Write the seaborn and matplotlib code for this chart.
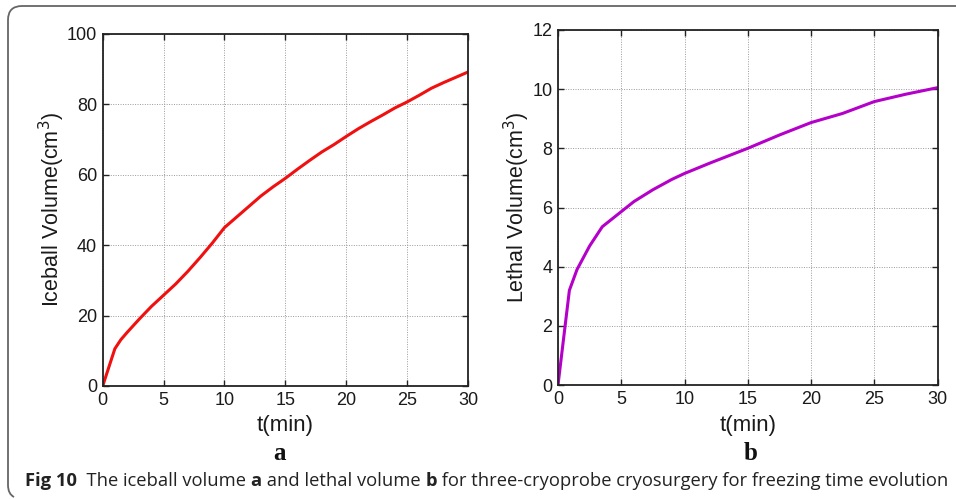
import numpy as np
import pandas as pd
import matplotlib
matplotlib.use("Agg")
import matplotlib.pyplot as plt
import seaborn as sns

# ---- data ----
t_ice = [0, 1, 1.5, 2, 3, 4, 5, 6, 7, 8, 9, 10, 11, 12, 13, 14, 15, 16, 17, 18,
         19, 20, 21, 22, 23, 24, 25, 26, 27, 28, 29, 30]
v_ice = [0, 10.6, 13.2, 15.2, 19.0, 22.6, 25.8, 29.0, 32.6, 36.5, 40.6, 45.0, 48.0,
         51.0, 54.0, 56.6, 59.0, 61.6, 64.1, 66.5, 68.6, 70.9, 73.1, 75.1, 77.0,
         79.0, 80.7, 82.6, 84.6, 86.2, 87.7, 89.2]
t_leth = [0, 0.9, 1.5, 2.5, 3.5, 5, 6, 7.5, 9, 10, 12, 13.5, 15, 17.5, 20, 22.5,
          25, 27.5, 30]
v_leth = [0, 3.2, 3.9, 4.7, 5.35, 5.86, 6.2, 6.6, 6.95, 7.15, 7.5, 7.75, 8.0,
          8.45, 8.87, 9.18, 9.58, 9.83, 10.05]
x_ticks = [0, 5, 10, 15, 20, 25, 30]
y_ticks_a = [0, 20, 40, 60, 80, 100]
y_ticks_b = [0, 2, 4, 6, 8, 10, 12]

df_a = pd.DataFrame({"t": t_ice, "v": v_ice})
df_b = pd.DataFrame({"t": t_leth, "v": v_leth})

sns.set_theme(style="white")
plt.rcParams["font.family"] = ["Liberation Sans", "DejaVu Sans"]

W, H = 956, 499
fig = plt.figure(figsize=(W / 100, H / 100), dpi=100)

def ax_rect(x0, x1, y0, y1):
    return [x0 / W, 1 - y1 / H, (x1 - x0) / W, (y1 - y0) / H]

ax1 = fig.add_axes(ax_rect(102.7, 468, 34, 386))
ax2 = fig.add_axes(ax_rect(558, 937.5, 30, 385))

def style(ax, yt, ylim, ylabel, lpad):
    ax.set_xlim(0, 30)
    ax.set_ylim(*ylim)
    ax.set_xticks(x_ticks)
    ax.set_yticks(yt)
    ax.grid(True, linestyle=(0, (1, 1.5)), color="#9a9a9a", linewidth=0.7)
    for s in ax.spines.values():
        s.set_color("#222222")
        s.set_linewidth(1.3)
        s.set_visible(True)
    ax.tick_params(direction="in", length=4, width=1, colors="#222222",
                   labelsize=13, top=True, right=True, bottom=True, left=True,
                   labelcolor="#1a1a1a", pad=4)
    ax.set_xlabel("t(min)", fontsize=16, color="#1a1a1a", labelpad=5)
    ax.set_ylabel(ylabel, fontsize=15.5, color="#1a1a1a", labelpad=lpad)

sns.lineplot(data=df_a, x="t", y="v", ax=ax1, color="#f01010", linewidth=2.2)
style(ax1, y_ticks_a, (0, 100), "Iceball Volume(cm$^3$)", 0)

sns.lineplot(data=df_b, x="t", y="v", ax=ax2, color="#b400c8", linewidth=2.2)
style(ax2, y_ticks_b, (0, 12), "Lethal Volume(cm$^3$)", 0)

# panel letters
fig.text(280 / W, 1 - 453 / H, "a", ha="center", va="center", fontsize=18,
         fontweight="bold", family=["Liberation Serif", "DejaVu Serif"], color="#111111")
fig.text(751 / W, 1 - 453 / H, "b", ha="center", va="center", fontsize=18,
         fontweight="bold", family=["Liberation Serif", "DejaVu Serif"], color="#111111")

# caption
cap_y = 1 - 481 / H
x = 25 / W
parts = [("Fig 10", "bold"), ("  The iceball volume ", "normal"), ("a", "bold"),
         (" and lethal volume ", "normal"), ("b", "bold"),
         (" for three-cryoprobe cryosurgery for freezing time evolution", "normal")]
fig.canvas.draw()
r = fig.canvas.get_renderer()
for txt, w in parts:
    tt = fig.text(x, cap_y, txt, ha="left", va="center", fontsize=13.2,
                  fontweight=w, family=["Open Sans", "DejaVu Sans"], color="#222222")
    bb = tt.get_window_extent(renderer=r)
    x += bb.width / W

# frame (top and left edges with rounded corner)
from matplotlib.path import Path
from matplotlib.patches import PathPatch
rad = 14
verts = [(W + 5, 6), (8 + rad, 6), (8, 6), (8, 6 + rad), (8, 485), (8, 494), (14, 497)]
codes = [Path.MOVETO, Path.LINETO, Path.CURVE3, Path.CURVE3, Path.LINETO, Path.CURVE3, Path.CURVE3]
verts_f = [(vx / W, 1 - vy / H) for vx, vy in verts]
frame = PathPatch(Path(verts_f, codes), transform=fig.transFigure, fill=False,
                  edgecolor="#666666", linewidth=1.3)
fig.patches.append(frame)

fig.savefig("out.png", dpi=100)
